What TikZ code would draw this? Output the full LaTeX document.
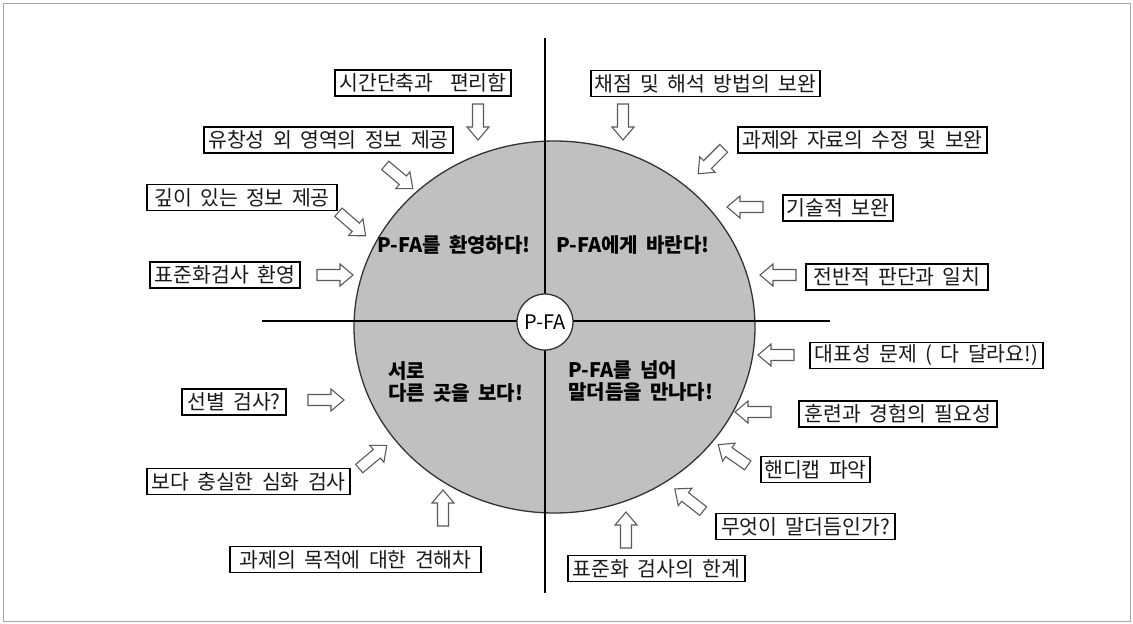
\documentclass[tikz,border=0pt]{standalone}
\usepackage{fontspec}
\setmainfont{Noto Sans CJK KR}[WordSpace=1.8]
\usetikzlibrary{shapes.geometric}
\definecolor{discgray}{HTML}{C0C0C0}
\definecolor{arrowline}{HTML}{5A5A5A}
\tikzset{
  lbl/.style={draw=black, line width=1.1pt, fill=white, inner xsep=2pt, inner ysep=0pt,
    minimum height=26pt, font=\fontsize{20.5}{22}\selectfont, text=black!90},
  blockarrow/.style={draw=arrowline, fill=white, line width=1.1pt, line join=miter},
  quad/.style={anchor=west, align=left, font=\fontsize{20}{22}\selectfont\bfseries, inner sep=0pt},
  pics/barrow/.style={code={
    \draw[blockarrow, rotate=#1] (-18,-5.5) -- (5,-5.5) -- (5,-11) -- (18,0) -- (5,11) -- (5,5.5) -- (-18,5.5) -- cycle;
  }},
}
\begin{document}
\begin{tikzpicture}[x=1pt,y=-1pt]
\useasboundingbox (0,0) rectangle (1133,624);
\draw[gray!70, line width=0.8pt] (3,3) rectangle (1130,621);

% disc
\node[ellipse, draw=black!80, line width=1.3pt, fill=discgray, minimum width=401pt, minimum height=372pt, inner sep=0pt] (disc) at (554.5,327) {};

% axes
\coordinate (vtop) at (545,38);
\coordinate (vbot) at (545,593);
\coordinate (hleft) at (262,321);
\coordinate (hright) at (830,321);
\draw[black, line width=1.3pt] (vtop) -- (vbot);
\draw[black, line width=1.3pt] (hleft) -- (hright);

% center
\node[circle, draw=black!80, line width=1.3pt, fill=white, minimum size=56pt, inner sep=0pt,
  font=\fontsize{20}{21}\selectfont] (pfa) at (545,322) {P-FA};

% quadrant labels
\node[quad] (q1) at (377,245) {P-FA를 환영하다!};
\node[quad] (q2) at (556,245) {P-FA에게 바란다!};
\node[quad] (q3) at (388,382) {서로\\다른 곳을 보다!};
\node[quad] (q4) at (568,381) {P-FA를 넘어\\말더듬을 만나다!};

% left labels
\node[lbl, minimum width=176pt] (l1) at (423,83) {시간단축과 \ 편리함};
\node[lbl, minimum width=249pt] (l2) at (328.5,140) {유창성 외 영역의 정보 제공};
\node[lbl, minimum width=190pt] (l3) at (242,197.5) {깊이 있는 정보 제공};
\node[lbl, minimum width=150pt] (l4) at (225,275) {표준화검사 환영};
\node[lbl, minimum width=104pt] (l5) at (234,402) {선별 검사?};
\node[lbl, minimum width=203pt] (l6) at (248.5,481.5) {보다 충실한 심화 검사};
\node[lbl, minimum width=251pt] (l7) at (355.5,559.5) {과제의 목적에 대한 견해차};

% right labels
\node[lbl, minimum width=229pt] (r1) at (705.5,83.5) {채점 및 해석 방법의 보완};
\node[lbl, minimum width=249pt] (r2) at (862.5,140) {과제와 자료의 수정 및 보완};
\node[lbl, minimum width=110pt] (r3) at (838,208) {기술적 보완};
\node[lbl, minimum width=182pt] (r4) at (897,277) {전반적 판단과 일치};
\node[lbl, minimum width=233pt] (r5) at (926.5,355.5) {대표성 문제 ( 다 달라요!)};
\node[lbl, minimum width=198pt] (r6) at (898,414) {훈련과 경험의 필요성};
\node[lbl, minimum width=109pt] (r7) at (815.5,469.5) {핸디캡 파악};
\node[lbl, minimum width=179pt] (r8) at (805.5,526.5) {무엇이 말더듬인가?};
\node[lbl, minimum width=177pt] (r9) at (656.5,568.5) {표준화 검사의 한계};

% block arrows (angle in degrees, counter-clockwise on the page)
\pic at (478,122) {barrow=-90};
\pic at (399,177) {barrow=-40};
\pic at (352,224) {barrow=-41};
\pic at (335,275) {barrow=0};
\pic at (326,400) {barrow=0};
\pic at (373,457) {barrow=40};
\pic at (443,508) {barrow=90};
\pic at (623,122) {barrow=-90};
\pic at (711,161) {barrow=-135};
\pic at (745,207) {barrow=180};
\pic at (778,275) {barrow=180};
\pic at (776,355) {barrow=180};
\pic at (753,412) {barrow=180};
\pic at (733,455) {barrow=145};
\pic at (689,500) {barrow=142};
\pic at (626,530) {barrow=90};
\end{tikzpicture}
\end{document}
